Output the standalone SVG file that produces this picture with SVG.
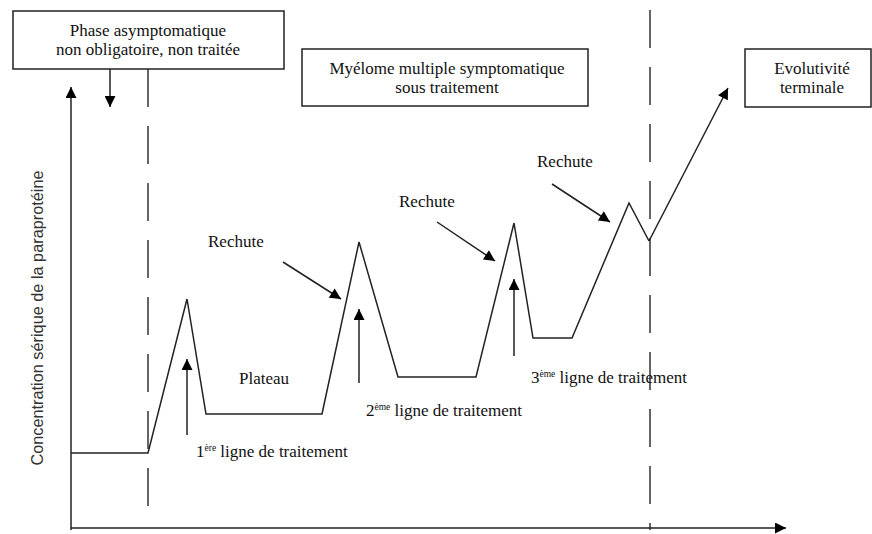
<svg xmlns="http://www.w3.org/2000/svg" width="872" height="534" viewBox="0 0 872 534">
<defs>
<marker id="ahb" viewBox="0 0 10 10" refX="10" refY="5" markerWidth="12" markerHeight="11" markerUnits="userSpaceOnUse" orient="auto">
<path d="M0,0 L10,5 L0,10 z" fill="#000"/>
</marker>
</defs>
<style>
.t{font-family:"Liberation Serif","Times New Roman",serif;font-size:17px;fill:#111}
.ax{font-family:"Liberation Sans",Arial,sans-serif;font-size:16.3px;fill:#333}
.box{fill:#fff;stroke:#222;stroke-width:1.5}
.ln{fill:none;stroke:#222;stroke-width:1.5}
.dash{fill:none;stroke:#333;stroke-width:1.5;stroke-dasharray:38 19}
.sup{font-size:9.5px}
</style>
<rect width="872" height="534" fill="#fff"/>

<g id="dividers">
<line class="dash" x1="148" y1="69" x2="148" y2="512"/>
<line class="dash" x1="650" y1="10" x2="650" y2="530"/>
</g>

<g id="axes">
<line class="ln" x1="71" y1="530" x2="71" y2="87" marker-end="url(#ahb)"/>
<line class="ln" x1="71" y1="528" x2="786" y2="528" marker-end="url(#ahb)"/>
<text class="ax" transform="translate(43,318) rotate(-90)" text-anchor="middle">Concentration sérique de la paraprotéine</text>
</g>

<g id="curve">
<polyline class="ln" points="71,453 148,453 187,299 206,414 322,414 359,242 398,377 476,377 514,223 533,338 572,338 629,203 649,241"/>
</g>

<g id="box-asymptomatique">
<rect class="box" x="13" y="11" width="271" height="58"/>
<text class="t" x="148" y="36" text-anchor="middle">Phase asymptomatique</text>
<text class="t" x="148" y="55" text-anchor="middle">non obligatoire, non traitée</text>
</g>

<g id="box-myelome">
<rect class="box" x="302" y="49" width="286" height="57"/>
<text class="t" x="447" y="74" text-anchor="middle">Myélome multiple symptomatique</text>
<text class="t" x="447" y="93" text-anchor="middle">sous traitement</text>
</g>

<g id="box-evolutivite">
<rect class="box" x="745" y="49" width="126" height="58"/>
<text class="t" x="812" y="74" text-anchor="middle">Evolutivité</text>
<text class="t" x="812" y="93" text-anchor="middle">terminale</text>
</g>

<g id="label-plateau">
<text class="t" x="264" y="384" text-anchor="middle">Plateau</text>
</g>
<g id="label-ligne1">
<text class="t" x="196" y="457">1<tspan class="sup" dy="-6">ère</tspan><tspan dy="6"> ligne de traitement</tspan></text>
</g>
<g id="label-ligne2">
<text class="t" x="366" y="416">2<tspan class="sup" dy="-6">ème</tspan><tspan dy="6"> ligne de traitement</tspan></text>
</g>
<g id="label-ligne3">
<text class="t" x="531" y="383">3<tspan class="sup" dy="-6">ème</tspan><tspan dy="6"> ligne de traitement</tspan></text>
</g>
<g id="label-rechute1">
<text class="t" x="208" y="247">Rechute</text>
</g>
<g id="label-rechute2">
<text class="t" x="399" y="207">Rechute</text>
</g>
<g id="label-rechute3">
<text class="t" x="537" y="167">Rechute</text>
</g>

<g id="connectors">
<line class="ln" x1="110" y1="69" x2="110" y2="107" marker-end="url(#ahb)"/>
<line class="ln" x1="187" y1="435" x2="187" y2="359" marker-end="url(#ahb)"/>
<line class="ln" x1="359" y1="383" x2="359" y2="309" marker-end="url(#ahb)"/>
<line class="ln" x1="514" y1="356" x2="514" y2="279" marker-end="url(#ahb)"/>
<line class="ln" x1="283" y1="262" x2="341" y2="299" marker-end="url(#ahb)"/>
<line class="ln" x1="437" y1="222" x2="495" y2="261" marker-end="url(#ahb)"/>
<line class="ln" x1="552" y1="184" x2="610" y2="222" marker-end="url(#ahb)"/>
<line class="ln" x1="649" y1="241" x2="728" y2="88" marker-end="url(#ahb)"/>
</g>
</svg>
